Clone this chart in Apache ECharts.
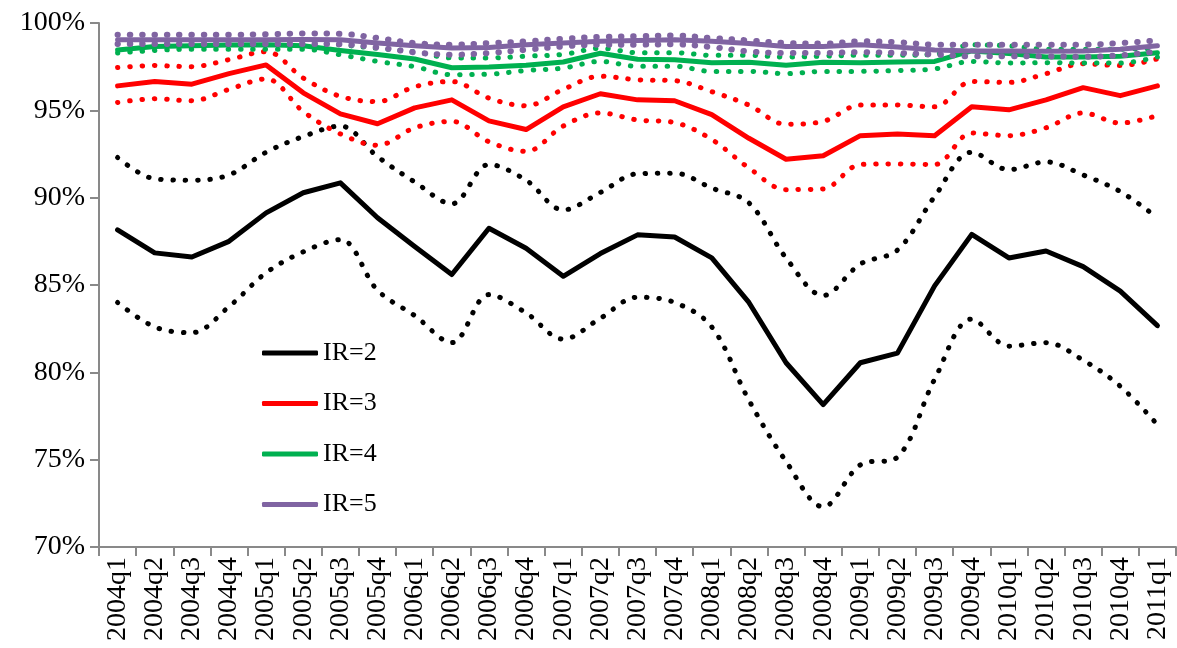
<!DOCTYPE html>
<html>
<head>
<meta charset="utf-8">
<style>
  html, body { margin: 0; padding: 0; background: #ffffff; }
  #chart { width: 1177px; height: 648px; }
</style>
<script src="https://cdn.jsdelivr.net/npm/echarts@6/dist/echarts.min.js"></script>
</head>
<body>
<div id="chart"></div>
<script>
// Quarterly categories
const quarters = [
  '2004q1','2004q2','2004q3','2004q4','2005q1','2005q2','2005q3','2005q4',
  '2006q1','2006q2','2006q3','2006q4','2007q1','2007q2','2007q3','2007q4',
  '2008q1','2008q2','2008q3','2008q4','2009q1','2009q2','2009q3','2009q4',
  '2010q1','2010q2','2010q3','2010q4','2011q1'
];

// Y axis ticks (percent)
const yTicks = [70, 75, 80, 85, 90, 95, 100];

// IR=2: central estimate and band
const ir2 = [88.16, 86.84, 86.6, 87.5, 89.13, 90.28, 90.85, 88.85, 87.2, 85.6, 88.25, 87.1, 85.5, 86.8, 87.87, 87.75, 86.55, 84.0, 80.55, 78.15, 80.55, 81.1, 84.95, 87.9, 86.55, 86.95, 86.05, 84.65, 82.67];
const ir2Upper = [92.3, 91.08, 91.0, 91.3, 92.6, 93.5, 94.1, 92.35, 90.9, 89.65, 91.9, 91.0, 89.3, 90.3, 91.37, 91.4, 90.55, 89.7, 86.55, 84.4, 86.2, 87.0, 90.06, 92.6, 91.6, 92.05, 91.3, 90.35, 88.85];
const ir2Lower = [84.0, 82.6, 82.27, 83.76, 85.7, 86.9, 87.6, 84.7, 83.25, 81.7, 84.45, 83.4, 81.9, 83.1, 84.3, 84.0, 82.6, 78.4, 74.9, 72.3, 74.7, 75.15, 79.6, 83.05, 81.5, 81.7, 80.7, 79.2, 77.0];

// IR=3
const ir3 = [96.4, 96.65, 96.5, 97.1, 97.6, 96.0, 94.8, 94.23, 95.14, 95.6, 94.4, 93.9, 95.2, 95.95, 95.6, 95.55, 94.75, 93.4, 92.2, 92.4, 93.55, 93.65, 93.55, 95.2, 95.03, 95.6, 96.3, 95.84, 96.4];
const ir3Upper = [97.45, 97.56, 97.5, 97.9, 98.36, 96.85, 95.8, 95.5, 96.35, 96.65, 95.7, 95.26, 96.2, 96.95, 96.75, 96.7, 96.07, 95.3, 94.2, 94.37, 95.3, 95.3, 95.2, 96.65, 96.6, 97.1, 97.67, 97.56, 97.95];
const ir3Lower = [95.45, 95.66, 95.55, 96.2, 96.8, 94.93, 93.65, 93.0, 94.0, 94.37, 93.2, 92.65, 94.1, 94.85, 94.45, 94.3, 93.33, 91.7, 90.46, 90.5, 91.9, 91.93, 91.9, 93.7, 93.55, 94.0, 94.85, 94.27, 94.7];

// IR=4
const ir4 = [98.45, 98.66, 98.7, 98.74, 98.76, 98.7, 98.43, 98.2, 97.94, 97.44, 97.48, 97.58, 97.77, 98.27, 97.92, 97.9, 97.72, 97.75, 97.58, 97.75, 97.72, 97.77, 97.8, 98.4, 98.25, 98.05, 98.05, 98.1, 98.3];
const ir4Upper = [98.8, 98.95, 99.0, 99.0, 99.0, 98.95, 98.75, 98.55, 98.35, 98.0, 98.0, 98.1, 98.2, 98.55, 98.3, 98.3, 98.15, 98.15, 98.05, 98.1, 98.15, 98.15, 98.2, 98.75, 98.7, 98.5, 98.5, 98.5, 98.55];
const ir4Lower = [98.28, 98.43, 98.5, 98.5, 98.5, 98.5, 98.18, 97.8, 97.5, 97.04, 97.07, 97.28, 97.42, 97.8, 97.52, 97.52, 97.23, 97.23, 97.1, 97.23, 97.23, 97.28, 97.37, 97.8, 97.71, 97.73, 97.71, 97.71, 98.05];

// IR=5
const ir5 = [99.04, 99.04, 99.04, 99.04, 99.04, 99.06, 99.04, 98.85, 98.7, 98.57, 98.6, 98.76, 98.85, 98.95, 99.0, 99.04, 98.95, 98.82, 98.66, 98.66, 98.76, 98.62, 98.45, 98.4, 98.4, 98.38, 98.4, 98.5, 98.7];
const ir5Upper = [99.33, 99.33, 99.33, 99.33, 99.35, 99.4, 99.38, 99.14, 98.85, 98.76, 98.85, 98.95, 99.1, 99.2, 99.24, 99.28, 99.14, 99.0, 98.85, 98.82, 98.95, 98.9, 98.76, 98.76, 98.76, 98.76, 98.76, 98.85, 99.0];
const ir5Lower = [98.8, 98.8, 98.8, 98.8, 98.8, 98.8, 98.78, 98.6, 98.32, 98.18, 98.28, 98.47, 98.66, 98.76, 98.76, 98.78, 98.62, 98.37, 98.28, 98.28, 98.33, 98.28, 98.2, 98.09, 98.09, 98.09, 98.07, 98.15, 98.37];

const groups = [
  { name: 'IR=2', color: '#000000', mid: ir2, up: ir2Upper, lo: ir2Lower, dot: 5 },
  { name: 'IR=3', color: '#ff0000', mid: ir3, up: ir3Upper, lo: ir3Lower, dot: 5 },
  { name: 'IR=4', color: '#00b050', mid: ir4, up: ir4Upper, lo: ir4Lower, dot: 5 },
  { name: 'IR=5', color: '#8064a2', mid: ir5, up: ir5Upper, lo: ir5Lower, dot: 6 }
];

const FONT = '"Liberation Serif", "DejaVu Serif", serif';

// Band edges drawn as round-capped dotted curves
function dottedSeries(name, color, data, width) {
  return {
    name: name,
    type: 'line',
    data: data,
    symbol: 'none',
    smooth: 0.35,
    silent: true,
    lineStyle: { color: color, width: width, type: [0.5, 11.8], cap: 'round' },
    emphasis: { disabled: true }
  };
}

const series = [];
groups.forEach(function (g) {
  series.push(dottedSeries(g.name + ' upper', g.color, g.up, g.dot));
  series.push(dottedSeries(g.name + ' lower', g.color, g.lo, g.dot));
  series.push({
    name: g.name,
    type: 'line',
    data: g.mid,
    symbol: 'none',
    lineStyle: { color: g.color, width: 5, cap: 'round', join: 'round' },
    itemStyle: { color: g.color },
    emphasis: { disabled: true }
  });
});

const chart = echarts.init(document.getElementById('chart'), null, { renderer: 'canvas' });
chart.setOption({
  animation: false,
  backgroundColor: '#ffffff',
  grid: { left: 99, right: 1, top: 23, bottom: 101, containLabel: false },
  legend: {
    data: groups.map(function (g) { return g.name; }),
    orient: 'vertical',
    left: 262,
    top: 340,
    padding: 0,
    icon: 'roundRect',
    itemWidth: 56,
    itemHeight: 5,
    itemGap: 24.5,
    selectedMode: false,
    textStyle: { fontFamily: FONT, fontSize: 26, color: '#000000', lineHeight: 26 }
  },
  xAxis: {
    type: 'category',
    data: quarters,
    boundaryGap: true,
    axisLine: { lineStyle: { color: '#898989', width: 2 } },
    axisTick: { show: true, length: 9, inside: false, lineStyle: { color: '#898989', width: 2 } },
    axisLabel: {
      interval: 0,
      rotate: 90,
      margin: 10,
      fontFamily: FONT,
      fontSize: 28,
      color: '#000000'
    },
    splitLine: { show: false }
  },
  yAxis: {
    type: 'value',
    min: yTicks[0],
    max: yTicks[yTicks.length - 1],
    interval: 5,
    axisLine: { show: true, lineStyle: { color: '#898989', width: 2 } },
    axisTick: { show: true, length: 9, lineStyle: { color: '#898989', width: 2 } },
    axisLabel: {
      formatter: '{value}%',
      margin: 14,
      fontFamily: FONT,
      fontSize: 28,
      color: '#000000'
    },
    splitLine: { show: false }
  },
  series: series
});
</script>
</body>
</html>
